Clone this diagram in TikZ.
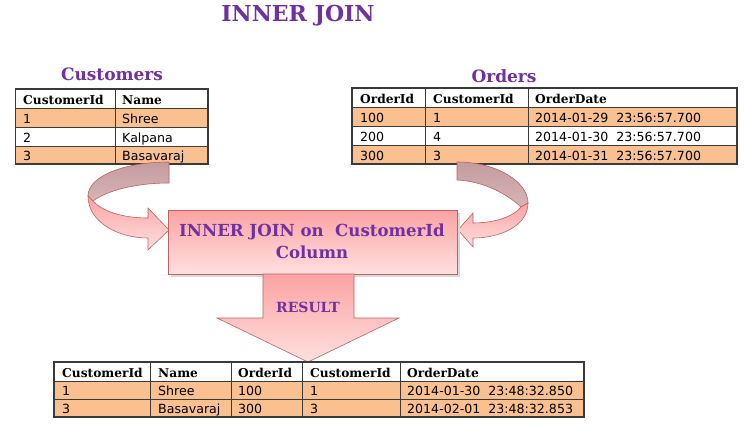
\documentclass[tikz,border=0pt]{standalone}
\usepackage{fontspec}
\setmainfont{DejaVu Serif}
\newfontfamily\datafont{DejaVu Sans}
\definecolor{jpurple}{HTML}{7030A0}
\definecolor{jorange}{HTML}{FAC090}
\definecolor{jline}{HTML}{3A3A3A}
\definecolor{jedge}{HTML}{C0605F}
\definecolor{jpinkA}{HTML}{FBA2A2}
\definecolor{jpinkB}{HTML}{FFE0E0}
\definecolor{jgreyA}{HTML}{C39CA0}
\definecolor{jgreyB}{HTML}{D8B4B6}
\tikzset{
  hd/.style={anchor=base west, inner sep=0pt, font=\fontsize{12.2}{14}\selectfont\bfseries},
  dt/.style={anchor=base west, inner sep=0pt, font=\datafont\fontsize{12.6}{14}\selectfont},
  ttl/.style={anchor=base, inner sep=0pt, text=jpurple},
  gridln/.style={draw=jline, line width=0.8pt},
  outerln/.style={draw=jline, line width=1.1pt},
  pinkshape/.style={draw=jedge, line width=0.6pt, top color=jpinkA, bottom color=jpinkB},
  greyshape/.style={draw=jedge, line width=0.6pt, top color=jgreyA, bottom color=jgreyB},
}
\begin{document}
\begin{tikzpicture}[x=1pt,y=-1pt]
\useasboundingbox[fill=white] (0,0) rectangle (744,436);

% ---------- titles ----------
\node[ttl, font=\fontsize{22}{24}\selectfont\bfseries] (title) at (298,22) {INNER JOIN};
\node[ttl, font=\fontsize{17}{19}\selectfont\bfseries] (custtitle) at (112,81) {Customers};
\node[ttl, font=\fontsize{17}{19}\selectfont\bfseries] (ordtitle) at (504,82) {Orders};

% ---------- Customers table ----------
\fill[jorange] (15.5,108) rectangle (208,127);
\fill[jorange] (15.5,146) rectangle (208,164);
\draw[gridln] (15.5,108) -- (208,108) (15.5,127) -- (208,127) (15.5,146) -- (208,146) (115,89) -- (115,164);
\draw[outerln] (15.5,89) rectangle (208,164);
\node[hd] (c-h1) at (23,104) {CustomerId};
\node[hd] (c-h2) at (122,104) {Name};
\node[dt] (c-11) at (23,123) {1};
\node[dt] (c-12) at (122,123) {Shree};
\node[dt] (c-21) at (23,142) {2};
\node[dt] (c-22) at (122,142) {Kalpana};
\node[dt] (c-31) at (23,160) {3};
\node[dt] (c-32) at (122,160) {Basavaraj};

% ---------- Orders table ----------
\fill[jorange] (352,107) rectangle (737,126);
\fill[jorange] (352,145) rectangle (737,164);
\draw[gridln] (352,107) -- (737,107) (352,126) -- (737,126) (352,145) -- (737,145) (425,88) -- (425,164) (528,88) -- (528,164);
\draw[outerln] (352,88) rectangle (737,164);
\node[hd] (o-h1) at (360,103) {OrderId};
\node[hd] (o-h2) at (433,103) {CustomerId};
\node[hd] (o-h3) at (535,103) {OrderDate};
\node[dt] (o-11) at (360,122) {100};
\node[dt] (o-12) at (433,122) {1};
\node[dt] (o-13) at (535,122) {2014-01-29\ \ 23:56:57.700};
\node[dt] (o-21) at (360,141) {200};
\node[dt] (o-22) at (433,141) {4};
\node[dt] (o-23) at (535,141) {2014-01-30\ \ 23:56:57.700};
\node[dt] (o-31) at (360,160) {300};
\node[dt] (o-32) at (433,160) {3};
\node[dt] (o-33) at (535,160) {2014-01-31\ \ 23:56:57.700};

% ---------- curved arrows ----------
% left
\path[greyshape] (169,162) .. controls (125,162) and (88,176) .. (88,196)
  -- (93,201) .. controls (106,191) and (135,183) .. (169,183) -- cycle;
\path[pinkshape] (88,196) .. controls (88,222) and (118,238) .. (148,238)
  -- (148,250) -- (169,230) -- (148,208) -- (148,218)
  .. controls (122,218) and (102,211) .. (93,201) -- cycle;
% right
\path[greyshape] (457,162) .. controls (497,162) and (528,182) .. (528,203)
  -- (521,207) .. controls (506,193) and (482,181) .. (457,180) -- cycle;
\path[pinkshape] (528,203) .. controls (528,226) and (500,238) .. (473,238)
  -- (473,247) -- (458,230) -- (473,213) -- (473,223)
  .. controls (496,223) and (514,216) .. (521,207) -- cycle;

% ---------- centre box ----------
\fill[black!15] (170.5,212.5) rectangle (459.5,276.5);
\path[pinkshape] (168,210) rectangle (457,274);
\node[ttl, font=\fontsize{16.6}{18}\selectfont\bfseries] (join1) at (312,236) {INNER JOIN on\ \ CustomerId};
\node[ttl, font=\fontsize{16.6}{18}\selectfont\bfseries] (join2) at (312,258) {Column};

% ---------- down arrow ----------
\path[pinkshape] (263,274) -- (354,274) -- (354,318) -- (399,318) -- (308,362)
  -- (217,318) -- (263,318) -- cycle;
\node[ttl, font=\fontsize{14}{16}\selectfont\bfseries] (result) at (308,312) {RESULT};

% ---------- Result table ----------
\fill[jorange] (54,381) rectangle (584,417);
\draw[gridln] (54,381) -- (584,381) (54,399) -- (584,399)
  (150,362) -- (150,417) (231,362) -- (231,417) (302,362) -- (302,417) (400,362) -- (400,417);
\draw[outerln] (54,362) rectangle (584,417);
\node[hd] (r-h1) at (62,377) {CustomerId};
\node[hd] (r-h2) at (158,377) {Name};
\node[hd] (r-h3) at (238,377) {OrderId};
\node[hd] (r-h4) at (310,377) {CustomerId};
\node[hd] (r-h5) at (407,377) {OrderDate};
\node[dt] (r-11) at (62,395) {1};
\node[dt] (r-12) at (158,395) {Shree};
\node[dt] (r-13) at (238,395) {100};
\node[dt] (r-14) at (310,395) {1};
\node[dt] (r-15) at (407,395) {2014-01-30\ \ 23:48:32.850};
\node[dt] (r-21) at (62,413) {3};
\node[dt] (r-22) at (158,413) {Basavaraj};
\node[dt] (r-23) at (238,413) {300};
\node[dt] (r-24) at (310,413) {3};
\node[dt] (r-25) at (407,413) {2014-02-01\ \ 23:48:32.853};
\end{tikzpicture}
\end{document}
